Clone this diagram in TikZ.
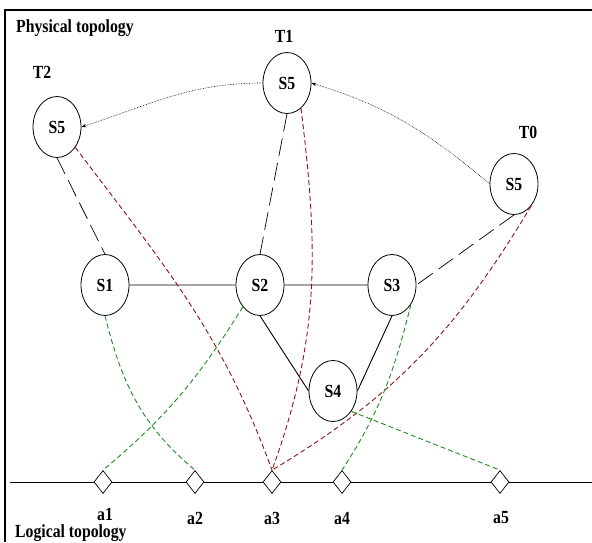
\documentclass[tikz,border=0pt]{standalone}
\usepackage{fontspec}
\setmainfont{Liberation Serif}[FakeStretch=0.85]
\usetikzlibrary{shapes.geometric,arrows.meta}
\definecolor{redlink}{RGB}{140,20,20}
\definecolor{greenlink}{RGB}{30,140,30}

\begin{document}
\begin{tikzpicture}[x=1pt,y=1pt,
    sw/.style={ellipse,draw,line width=0.8pt,minimum width=48pt,minimum height=61pt,inner sep=0pt,font=\fontsize{18.5}{20}\selectfont\bfseries},
    port/.style={diamond,draw,fill=white,line width=0.7pt,minimum width=18pt,minimum height=23pt,inner sep=0pt},
    lbl/.style={inner sep=0pt,font=\fontsize{18.5}{20}\selectfont\bfseries},
    longdash/.style={line width=0.7pt,dash pattern=on 18pt off 7pt},
    mig/.style={densely dotted,line width=0.6pt,-{Stealth[length=5pt,width=3.5pt]}},
    redmap/.style={redlink,line width=0.9pt,dash pattern=on 5pt off 3pt},
    greenmap/.style={greenlink,line width=0.9pt,dash pattern=on 5pt off 3pt}]
  \useasboundingbox (0,0) rectangle (592,542);
  % frame
  \coordinate (fbot) at (5,0);
  \coordinate (fcorner) at (5,532);
  \coordinate (fright) at (592,532);
  \draw[line width=1.6pt] (fbot) -- (fcorner) -- (fright);
  \node[lbl,anchor=base west] (phys) at (16,509) {Physical topology};
  \node[lbl,anchor=base west] (logi) at (15,5) {Logical topology};
  % physical switches
  \node[sw] (t2) at (57,415) {S5};
  \node[sw] (t1) at (287,459) {S5};
  \node[sw] (t0) at (514,358) {S5};
  \node[sw] (s1) at (105,257) {S1};
  \node[sw] (s2) at (260,257) {S2};
  \node[sw] (s3) at (392,257) {S3};
  \node[sw] (s4) at (333,151) {S4};
  \node[lbl,anchor=base] (lt2) at (42,463) {T2};
  \node[lbl,anchor=base] (lt1) at (284,499) {T1};
  \node[lbl,anchor=base] (lt0) at (528,403) {T0};
  \draw[line width=0.9pt] (s1) -- (s2) (s2) -- (s3) (s2.south) -- (s4.west) (s3.south) -- (s4.east);
  \draw[longdash] (t2.south) -- (s1.north) (t1.south) -- (s2.north) (t0.south) -- (s3.east);
  \draw[mig] (t0.west) to[out=140,in=-17] (t1.east);
  \draw[mig] (t1.west) to[out=180,in=18] (t2.east);
  % logical line
  \coordinate (lbeg) at (10,60);
  \coordinate (lend) at (592,60);
  \draw[line width=1pt] (lbeg) -- (lend);
  \foreach \n/\x/\lx/\ly in {1/103/105/22,2/195/195/18,3/272/272/18,4/342/342/18,5/500/501/19}{
    \node[port] (a\n) at (\x,60) {};
    \node[lbl,anchor=base] (la\n) at (\lx,\ly) {a\n};}
  % mappings
  \draw[redmap] (t2.-48) to[out=-53,in=110] (a3.north);
  \draw[redmap] (t1.-61) to[out=-83,in=70] (a3.north);
  \draw[redmap] (t0.-52) to[out=-121,in=31] (a3.north);
  \draw[greenmap] (s1.south) to[out=-76,in=140] (a2.north);
  \draw[greenmap] (s2.-128) to[out=-122,in=40] (a1.north);
  \draw[greenmap] (s3.-46) to[out=-104,in=57] (a4.north);
  \draw[greenmap] (s4.-48) -- (a5.north);
\end{tikzpicture}
\end{document}
